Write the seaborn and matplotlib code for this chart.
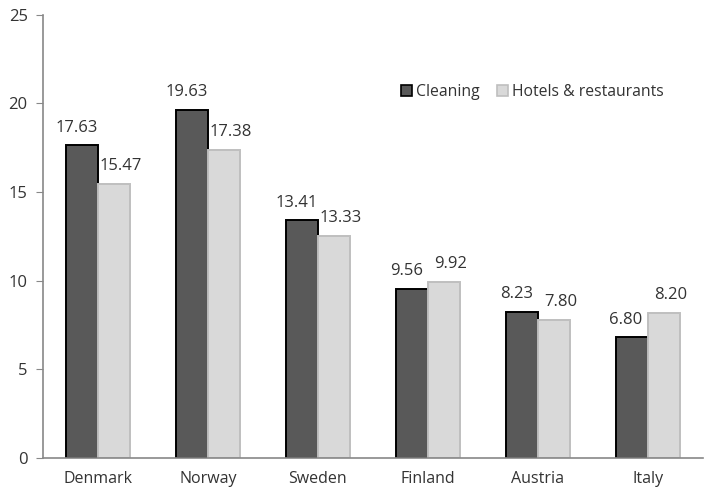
import pandas as pd

import matplotlib.pyplot as plt

import seaborn as sns

# data
countries = ["Denmark", "Norway", "Sweden", "Finland", "Austria", "Italy"]
cleaning = [17.63, 19.63, 13.41, 9.56, 8.23, 6.80]
hotels = [15.47, 17.38, 12.55, 9.92, 7.80, 8.20]
cleaning_labels = ["17.63", "19.63", "13.41", "9.56", "8.23", "6.80"]
hotels_labels = ["15.47", "17.38", "13.33", "9.92", "7.80", "8.20"]
series = ["Cleaning", "Hotels & restaurants"]

df = pd.DataFrame({
    "country": countries * 2,
    "sector": [series[0]] * len(countries) + [series[1]] * len(countries),
    "value": cleaning + hotels,
})

sns.set_style("white")
plt.rcParams["font.family"] = ["Open Sans", "DejaVu Sans"]

fig, ax = plt.subplots(figsize=(7.04, 4.92), dpi=100)
fig.subplots_adjust(left=0.061, right=0.998, top=0.97, bottom=0.069)

sns.barplot(data=df, x="country", y="value", hue="sector", ax=ax,
            palette=["#595959", "#d9d9d9"], width=0.58, gap=0,
            saturation=1)

edges = ["#000000", "#bfbfbf"]

# bar edges
for cont, ec in zip(ax.containers, edges):
    for bar in cont:
        bar.set_edgecolor(ec)
        bar.set_linewidth(1.4)

# value labels, nudged apart a little so pairs don't collide
for cont, labs, dx in zip(ax.containers, [cleaning_labels, hotels_labels], [-4, 5]):
    anns = ax.bar_label(cont, labels=labs, padding=7, fontsize=12, color="#333333")
    for a in anns:
        a.xyann = (dx, 7)

ax.set_ylim(0, 25)
ax.set_yticks([0, 5, 10, 15, 20, 25])
ax.set_xlim(-0.5, len(countries) - 0.5)
ax.set_xlabel("")
ax.set_ylabel("")

# ticks between categories on x axis
ax.set_xticks([i for i in range(len(countries))])
ax.set_xticklabels(countries)
ax.tick_params(axis="x", length=0, labelsize=11.5, colors="#333333", pad=9)
ax.set_xticks([i - 0.5 for i in range(len(countries) + 1)], minor=True)
ax.tick_params(axis="x", which="minor", length=5, color="#888888", direction="out")
ax.tick_params(axis="y", length=5, labelsize=12, colors="#333333",
               color="#888888", direction="out", left=True, pad=6)

for side in ["top", "right"]:
    ax.spines[side].set_visible(False)
for side in ["left", "bottom"]:
    ax.spines[side].set_color("#888888")
    ax.spines[side].set_linewidth(1.2)

handles, labels = ax.get_legend_handles_labels()
for h, ec in zip(handles, edges):
    h.set_edgecolor(ec)
    h.set_linewidth(1.2)
ax.legend(handles, labels, loc="upper left", bbox_to_anchor=(0.522, 0.875),
          ncol=2, frameon=False, fontsize=11.3, handlelength=0.7,
          handleheight=0.7, handletextpad=0.25, columnspacing=1.1,
          labelcolor="#333333")

plt.savefig("out.png", dpi=100)
